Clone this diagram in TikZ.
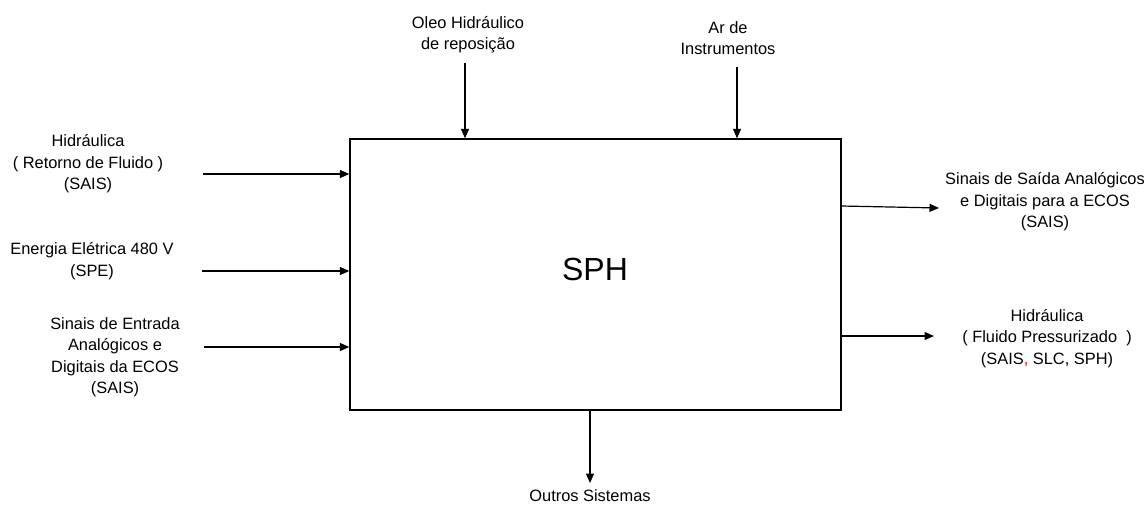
\documentclass[tikz,border=0pt]{standalone}
\usepackage{fontspec}
\setmainfont{Liberation Sans}
\usetikzlibrary{arrows.meta}
\begin{document}
\begin{tikzpicture}[x=1pt,y=-1pt,
  lbl/.style={align=center,inner sep=0pt,font=\fontsize{16.4}{21.5}\selectfont},
  arr/.style={line width=1.2pt,-{Triangle[length=9.5pt,width=8pt]}},
  boxst/.style={draw,line width=1.3pt,inner sep=0pt}]
\useasboundingbox (0,0) rectangle (1148,504);
\node[boxst,minimum width=491pt,minimum height=271pt] (sph) at (595.5,274.5) {};
\node[font=\fontsize{32}{38}\selectfont] (title) at (595,269.5) {SPH};
% left inputs
\node[lbl] (l1) at (88,164) {Hidráulica\\( Retorno de Fluido )\\(SAIS)};
\node[lbl] (l2) at (92,261) {Energia Elétrica 480 V\\(SPE)};
\node[lbl] (l3) at (115,357) {Sinais de Entrada\\Analógicos e\\Digitais da ECOS\\(SAIS)};
\coordinate (s1) at (203,174);
\coordinate (s2) at (202,271);
\coordinate (s3) at (204,347);
\draw[arr] (s1) -- (s1 -| sph.west);
\draw[arr] (s2) -- (s2 -| sph.west);
\draw[arr] (s3) -- (s3 -| sph.west);
% top inputs
\node[lbl] (t1) at (468,34.5) {Oleo Hidráulico\\de reposição};
\node[lbl] (t2) at (728,38) {Ar de\\Instrumentos};
\coordinate (u1) at (465,63);
\coordinate (u2) at (737,67);
\draw[arr] (u1) -- (u1 |- sph.north);
\draw[arr] (u2) -- (u2 |- sph.north);
% right outputs
\node[lbl] (r1) at (1045,202) {Sinais de Saída Analógicos\\e Digitais para a ECOS\\(SAIS)};
\node[lbl] (r2) at (1047,338.5) {Hidráulica\\( Fluido Pressurizado~~)\\(SAIS{\color{red},} SLC, SPH)};
\coordinate (e1) at (939,208);
\coordinate (e2) at (934,336);
\draw[arr] (sph.east |- 0,206) -- (e1);
\draw[arr] (sph.east |- e2) -- (e2);
% bottom output
\node[lbl] (b1) at (590,495.5) {Outros Sistemas};
\coordinate (d1) at (590,483);
\draw[arr] (d1 |- sph.south) -- (d1);
\end{tikzpicture}
\end{document}
